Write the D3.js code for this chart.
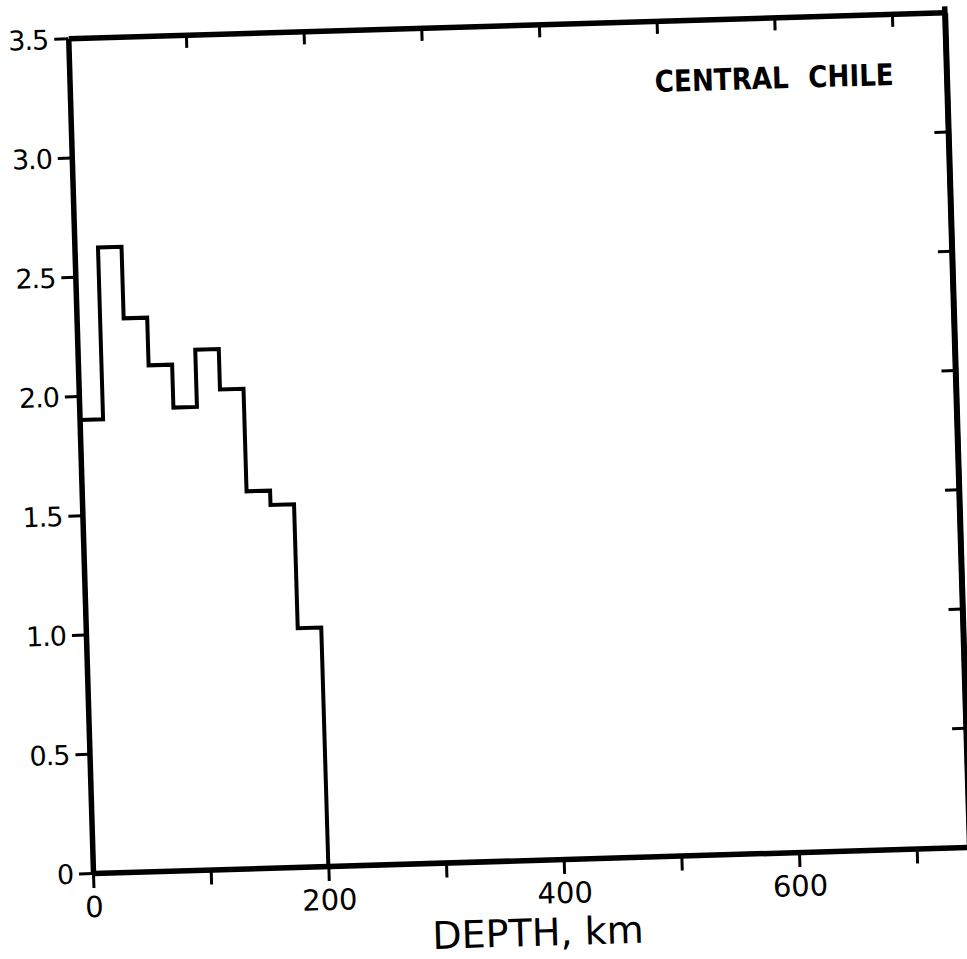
<!DOCTYPE html>
<html><head><meta charset="utf-8">
<script src="https://cdn.jsdelivr.net/npm/d3@7"></script>
<style>body{margin:0;background:#fff}svg{display:block}</style>
</head><body>
<svg id="chart" width="967" height="959"></svg>
<script>
// ---- data ----
const binEdges = [0, 20, 40, 60, 80, 100, 120, 140, 160, 180, 200];
const binValues = [1.90, 2.62, 2.32, 2.12, 1.94, 2.18, 2.01, 1.58, 1.52, 1.00];
const xTicks = [0, 100, 200, 300, 400, 500, 600, 700];
const xTickLabels = ["0", "", "200", "", "400", "", "600", ""];
const yTicks = [0, 0.5, 1.0, 1.5, 2.0, 2.5, 3.0, 3.5];
const yTickLabels = ["0", "0.5", "1.0", "1.5", "2.0", "2.5", "3.0", "3.5"];
const xDomain = [0, 745];
const yDomain = [0, 3.5];
const titleText = "CENTRAL CHILE";
const xAxisTitle = "DEPTH, km";

// ---- layout ----
const W = 877, H = 835;
const svg = d3.select("#chart");
const root = svg.append("g").attr("transform", "translate(93,873) rotate(-1.7)");
const g = root.append("g").attr("transform", `translate(0,${-H})`);

const x = d3.scaleLinear().domain(xDomain).range([0, W]);
const y = d3.scaleLinear().domain(yDomain).range([H, 0]);

const font = "'DejaVu Sans', sans-serif";

// axes
const axB = g.append("g").attr("transform", `translate(0,${H})`)
  .call(d3.axisBottom(x).tickValues(xTicks).tickSize(15).tickSizeOuter(0)
    .tickFormat((d, i) => xTickLabels[i]));
const axT = g.append("g")
  .call(d3.axisTop(x).tickValues(xTicks.filter(d => d > 0)).tickSize(-13).tickSizeOuter(0).tickFormat(""));
const axL = g.append("g")
  .call(d3.axisLeft(y).tickValues(yTicks).tickSize(14).tickSizeOuter(0)
    .tickFormat((d, i) => yTickLabels[i]));
const axR = g.append("g").attr("transform", `translate(${W},0)`)
  .call(d3.axisRight(y).tickValues(yTicks.filter(d => d > 0 && d < 3.5)).tickSize(-14).tickSizeOuter(0).tickFormat(""));

[axB, axT, axL, axR].forEach(a => {
  a.select(".domain").attr("stroke", "#000").attr("stroke-width", 5.5);
  a.selectAll(".tick line").attr("stroke", "#000").attr("stroke-width", 3);
  a.selectAll(".tick text").attr("fill", "#000").attr("font-family", font);
});
axB.selectAll(".tick text").attr("font-size", 29).attr("dy", 0).attr("y", 44);
axL.selectAll(".tick text").attr("font-size", 27).attr("x", -20).attr("dy", "0.36em")
  .attr("letter-spacing", -1);

// right-axis extension past corners
g.append("line").attr("x1", W).attr("x2", W).attr("y1", -6).attr("y2", H + 10)
  .attr("stroke", "#000").attr("stroke-width", 5.5);

// histogram step line
const pts = binValues.map((v, i) => [binEdges[i], v]);
pts.push([binEdges[binEdges.length - 1], binValues[binValues.length - 1]]);
pts.push([binEdges[binEdges.length - 1], 0]);
const line = d3.line().x(d => x(d[0])).y(d => y(d[1])).curve(d3.curveStepAfter);
g.append("path").attr("d", line(pts)).attr("fill", "none")
  .attr("stroke", "#000").attr("stroke-width", 4).attr("stroke-linejoin", "miter");

// title
g.append("text").attr("x", x(700)).attr("y", 71).attr("text-anchor", "end")
  .attr("font-family", font).attr("font-weight", "bold").attr("font-size", 30)
  .attr("word-spacing", 12)
  .attr("textLength", 239).attr("lengthAdjust", "spacingAndGlyphs")
  .text(titleText);

// x-axis title
g.append("text").attr("x", 443).attr("y", H + 86).attr("text-anchor", "middle")
  .attr("font-family", font).attr("font-size", 38)
  .text(xAxisTitle);
</script>
</body></html>
